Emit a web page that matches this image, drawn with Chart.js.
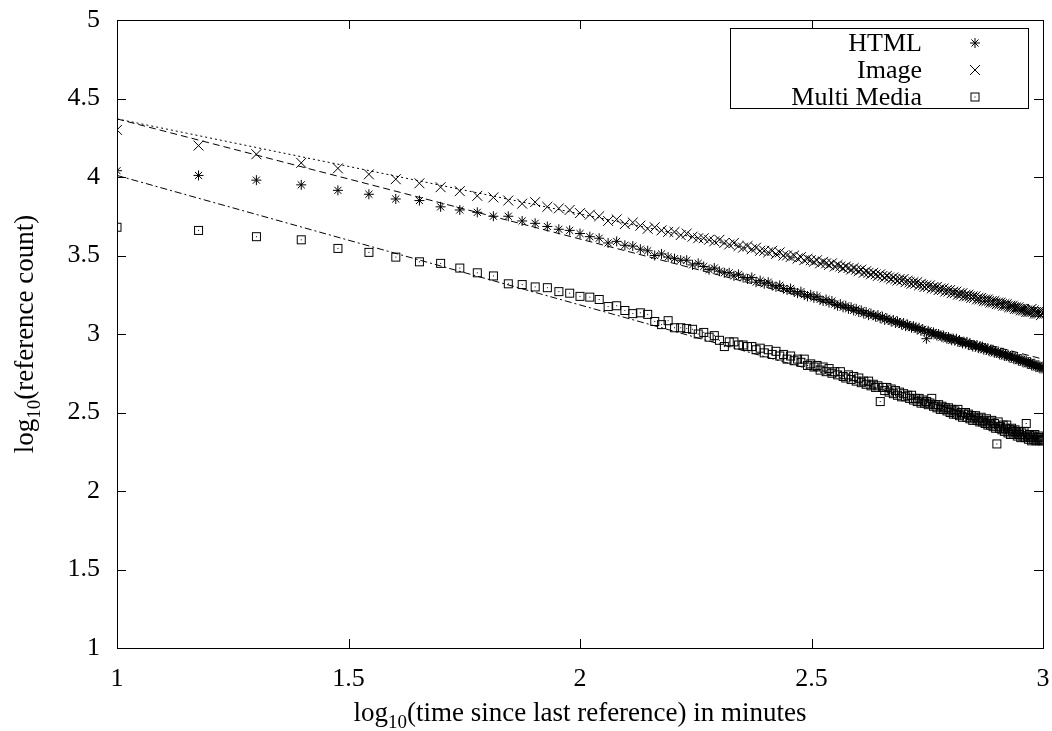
<!DOCTYPE html>
<html>
<head>
<meta charset="utf-8">
<script src="https://cdn.jsdelivr.net/npm/chart.js@4"></script>
<style>
  body { margin: 0; background: #fff; }
  #wrap { width: 1052px; height: 731px; }
</style>
</head>
<body>
<div id="wrap"><canvas id="refChart" width="1052" height="731"></canvas></div>
<script>
// time since last reference, minutes (x axis shows log10 of this)
var minutes = [10,15,20,25,30,35,40,45,50,55,60,65,70,75,80,85,90,95,100,
  105,110,115,120,125,130,135,140,145,150,155,160,165,170,175,180,185,190,195,200,
  205,210,215,220,225,230,235,240,245,250,255,260,265,270,275,280,285,290,295,300,
  305,310,315,320,325,330,335,340,345,350,355,360,365,370,375,380,385,390,395,400,
  405,410,415,420,425,430,435,440,445,450,455,460,465,470,475,480,485,490,495,500,
  505,510,515,520,525,530,535,540,545,550,555,560,565,570,575,580,585,590,595,600,
  605,610,615,620,625,630,635,640,645,650,655,660,665,670,675,680,685,690,695,700,
  705,710,715,720,725,730,735,740,745,750,755,760,765,770,775,780,785,790,795,800,
  805,810,815,820,825,830,835,840,845,850,855,860,865,870,875,880,885,890,895,900,
  905,910,915,920,925,930,935,940,945,950,955,960,965,970,975,980,985,990,995,1000];

// log10(reference count) per series
var htmlCounts = [4.04,4.01,3.98,3.95,3.915,3.89,3.86,3.85,3.81,3.79,3.775,3.75,3.75,3.72,3.705,3.685,3.667,3.66,3.64,
  3.62,3.61,3.58,3.59,3.565,3.56,3.54,3.53,3.50,3.51,3.49,3.48,3.47,3.47,
  3.44,3.45,3.43,3.41,3.42,3.40,3.39,3.39,3.37,3.38,3.36,3.35,3.36,3.33,3.34,3.32,3.33,3.31,
  3.30,3.31,3.29,3.28,3.29,3.27,3.26,3.27,3.25,3.24,3.25,3.23,3.24,3.22,3.21,3.22,3.20,3.21,3.19,3.18,3.19,3.17,3.18,3.16,3.17,3.15,3.16,3.14,
  3.15,3.13,3.14,3.12,3.13,3.12,3.11,3.12,3.10,3.11,3.09,3.10,3.09,3.08,3.09,3.07,3.08,3.07,3.06,3.07,
  3.05,3.06,3.05,3.04,3.05,3.04,3.03,3.04,3.02,3.03,3.02,2.97,3.02,3.01,3.00,3.01,3.00,2.99,3.00,2.99,
  2.98,2.99,2.98,2.97,2.98,2.97,2.96,2.97,2.96,2.97,2.95,2.96,2.95,2.94,2.95,2.94,2.95,2.93,2.94,2.93,
  2.92,2.93,2.92,2.93,2.91,2.92,2.91,2.92,2.90,2.91,2.90,2.91,2.89,2.90,2.89,2.90,2.88,2.89,2.88,2.89,
  2.87,2.88,2.87,2.88,2.86,2.87,2.86,2.87,2.85,2.86,2.85,2.86,2.84,2.85,2.84,2.85,2.83,2.84,2.83,2.84,
  2.82,2.83,2.82,2.83,2.81,2.82,2.81,2.82,2.80,2.81,2.80,2.81,2.79,2.80,2.79,2.80,2.78,2.79,2.78,2.79];

var imageCounts = [4.30,4.20,4.145,4.09,4.055,4.017,3.986,3.96,3.935,3.91,3.88,3.87,3.85,3.83,3.84,3.81,3.80,3.79,3.77,
  3.76,3.75,3.72,3.73,3.70,3.71,3.69,3.67,3.68,3.66,3.65,3.65,3.63,3.64,
  3.62,3.61,3.61,3.60,3.59,3.60,3.58,3.57,3.58,3.56,3.55,3.56,3.54,3.55,3.53,3.53,3.52,3.53,
  3.51,3.52,3.50,3.50,3.49,3.50,3.48,3.49,3.47,3.48,3.47,3.46,3.47,3.45,3.46,3.45,3.44,3.45,3.43,3.44,3.43,3.42,3.43,3.42,3.41,3.42,3.41,3.40,
  3.41,3.39,3.40,3.39,3.38,3.39,3.38,3.37,3.38,3.37,3.36,3.37,3.36,3.35,3.36,3.35,3.34,3.35,3.34,3.35,
  3.33,3.34,3.33,3.32,3.33,3.32,3.33,3.31,3.32,3.31,3.30,3.31,3.30,3.31,3.29,3.30,3.29,3.30,3.28,3.29,
  3.28,3.29,3.27,3.28,3.27,3.28,3.26,3.27,3.26,3.27,3.25,3.26,3.25,3.26,3.24,3.25,3.24,3.25,3.24,3.23,
  3.24,3.23,3.24,3.22,3.23,3.22,3.23,3.22,3.21,3.22,3.21,3.22,3.21,3.20,3.21,3.20,3.21,3.20,3.19,3.20,
  3.19,3.20,3.19,3.18,3.19,3.18,3.19,3.18,3.17,3.18,3.17,3.18,3.17,3.16,3.17,3.16,3.17,3.16,3.15,3.16,
  3.15,3.16,3.15,3.14,3.15,3.14,3.15,3.14,3.16,3.14,3.15,3.13,3.14,3.13,3.14,3.13,3.14,3.12,3.13,3.14];

var mediaCounts = [3.68,3.66,3.62,3.60,3.545,3.52,3.49,3.46,3.45,3.42,3.39,3.37,3.32,3.315,3.30,3.295,3.27,3.26,3.24,
  3.235,3.22,3.175,3.18,3.15,3.13,3.135,3.125,3.08,3.06,3.085,3.04,3.04,3.035,
  3.03,3.00,3.01,2.98,2.99,2.96,2.92,2.95,2.95,2.93,2.93,2.92,2.92,2.90,2.91,2.88,2.90,2.87,
  2.89,2.86,2.87,2.84,2.86,2.83,2.84,2.82,2.84,2.80,2.81,2.79,2.80,2.77,2.79,2.76,2.78,2.75,2.76,2.74,2.76,2.73,2.72,2.74,2.71,2.73,2.70,2.72,
  2.69,2.70,2.68,2.70,2.67,2.68,2.66,2.67,2.57,2.66,2.64,2.66,2.63,2.65,2.62,2.64,2.61,2.63,2.60,2.62,
  2.60,2.61,2.59,2.61,2.58,2.59,2.57,2.59,2.56,2.58,2.56,2.57,2.55,2.56,2.59,2.54,2.55,2.53,2.55,2.52,
  2.54,2.52,2.53,2.51,2.53,2.50,2.52,2.49,2.51,2.49,2.52,2.48,2.50,2.47,2.49,2.50,2.47,2.49,2.46,2.48,
  2.45,2.47,2.48,2.45,2.46,2.44,2.47,2.44,2.45,2.43,2.46,2.42,2.44,2.42,2.45,2.41,2.43,2.40,2.30,2.44,
  2.40,2.41,2.39,2.42,2.38,2.40,2.42,2.37,2.39,2.36,2.40,2.38,2.36,2.39,2.37,2.35,2.38,2.36,2.34,2.37,
  2.35,2.38,2.34,2.43,2.35,2.33,2.36,2.34,2.32,2.35,2.33,2.36,2.32,2.34,2.33,2.35,2.32,2.34,2.32,2.33];

// straight-line fits, value at log10(t) = 1 and 3
var fitEnds = [1, 3];
var htmlFit = [4.37, 2.84];
var imageFit = [4.37, 3.16];
var mediaFit = [4.01, 2.36];

var seriesLabels = ['HTML', 'Image', 'Multi Media'];
var serif = "'Liberation Serif', 'Times New Roman', serif";

function points(vals) {
  return vals.map(function (v, i) { return { x: Math.log10(minutes[i]), y: v }; });
}
function fitLine(ends) {
  return ends.map(function (v, i) { return { x: fitEnds[i], y: v }; });
}

// open square with a dot in the middle
function boxMarker() {
  var c = document.createElement('canvas');
  c.width = 11; c.height = 11;
  var g = c.getContext('2d');
  g.strokeStyle = '#000';
  g.lineWidth = 1;
  g.strokeRect(1.5, 1.5, 8, 8);
  g.fillStyle = '#000';
  g.fillRect(5, 5, 1, 1);
  return c;
}
var boxImg = boxMarker();

var gnuplotFrame = {
  id: 'gnuplotFrame',
  beforeDraw: function (chart) {
    var ctx = chart.ctx;
    ctx.save();
    ctx.fillStyle = '#fff';
    ctx.fillRect(0, 0, chart.width, chart.height);
    ctx.restore();
  },
  afterDraw: function (chart) {
    var ctx = chart.ctx, a = chart.chartArea;
    var xs = chart.scales.x, ys = chart.scales.y;
    ctx.save();
    ctx.strokeStyle = '#000';
    ctx.lineWidth = 1;
    ctx.strokeRect(a.left + 0.5, a.top + 0.5, a.right - a.left, a.bottom - a.top);
    ctx.beginPath();
    xs.ticks.forEach(function (t) {
      var px = Math.round(xs.getPixelForValue(t.value)) + 0.5;
      ctx.moveTo(px, a.bottom); ctx.lineTo(px, a.bottom - 9);
      ctx.moveTo(px, a.top); ctx.lineTo(px, a.top + 9);
    });
    ys.ticks.forEach(function (t) {
      var py = Math.round(ys.getPixelForValue(t.value)) + 0.5;
      ctx.moveTo(a.left, py); ctx.lineTo(a.left + 9, py);
      ctx.moveTo(a.right, py); ctx.lineTo(a.right - 9, py);
    });
    ctx.stroke();

    // axis titles with subscript 10
    function subTitle(before, after, cx, base) {
      ctx.font = '27px ' + serif;
      var w1 = ctx.measureText(before).width, w3 = ctx.measureText(after).width;
      ctx.font = '19px ' + serif;
      var w2 = ctx.measureText('10').width;
      var x0 = cx - (w1 + w2 + w3) / 2;
      ctx.fillStyle = '#000';
      ctx.textBaseline = 'alphabetic';
      ctx.textAlign = 'left';
      ctx.font = '27px ' + serif;
      ctx.fillText(before, x0, base);
      ctx.font = '19px ' + serif;
      ctx.fillText('10', x0 + w1, base + 7);
      ctx.font = '27px ' + serif;
      ctx.fillText(after, x0 + w1 + w2, base);
    }
    subTitle('log', '(time since last reference) in minutes', (a.left + a.right) / 2, 721);
    ctx.save();
    ctx.translate(33, (a.top + a.bottom) / 2);
    ctx.rotate(-Math.PI / 2);
    subTitle('log', '(reference count)', 0, 0);
    ctx.restore();

    // legend box: text right aligned, marker on the right
    var lx = 730, ly = 28, lw = 298, lh = 80;
    ctx.strokeRect(lx + 0.5, ly + 0.5, lw, lh);
    ctx.font = '26px ' + serif;
    ctx.textAlign = 'right';
    ctx.textBaseline = 'middle';
    ctx.fillStyle = '#000';
    for (var i = 0; i < 3; i++) {
      var ds = chart.data.datasets[i];
      var rowY = 43 + i * 27;
      ctx.fillText(ds.label, 922, rowY + 1);
      Chart.helpers.drawPoint(ctx, {
        pointStyle: ds.pointStyle, radius: ds.pointRadius, borderWidth: 1, rotation: 0
      }, 975, rowY);
    }
    ctx.restore();
  }
};

var plainTick = function (v) { return String(v); };

var config = {
  type: 'scatter',
  data: {
    datasets: [
      { label: seriesLabels[0], data: points(htmlCounts), pointStyle: 'star', pointRadius: 5,
        borderColor: '#000', backgroundColor: '#000', pointBorderWidth: 1 },
      { label: seriesLabels[1], data: points(imageCounts), pointStyle: 'crossRot', pointRadius: 7,
        borderColor: '#000', backgroundColor: '#000', pointBorderWidth: 1 },
      { label: seriesLabels[2], data: points(mediaCounts), pointStyle: boxImg, pointRadius: 5,
        borderColor: '#000', backgroundColor: '#000', pointBorderWidth: 1 },
      { label: 'HTML fit', data: fitLine(htmlFit), showLine: true, pointRadius: 0,
        borderColor: '#000', borderWidth: 1, borderDash: [7, 4] },
      { label: 'Image fit', data: fitLine(imageFit), showLine: true, pointRadius: 0,
        borderColor: '#000', borderWidth: 1, borderDash: [2, 3] },
      { label: 'Multi Media fit', data: fitLine(mediaFit), showLine: true, pointRadius: 0,
        borderColor: '#000', borderWidth: 1, borderDash: [7, 3, 2, 3] }
    ]
  },
  options: {
    responsive: false,
    animation: false,
    layout: { padding: { left: 0, right: 9, top: 20, bottom: 0 } },
    plugins: { legend: { display: false }, tooltip: { enabled: false } },
    scales: {
      x: {
        type: 'linear', min: 1, max: 3,
        grid: { display: false, drawTicks: false },
        border: { display: false },
        ticks: { stepSize: 0.5, padding: 16, color: '#000', maxRotation: 0,
                 font: { family: serif, size: 26 }, callback: plainTick },
        afterFit: function (s) { s.height = 83; s.paddingLeft = 0; s.paddingRight = 0; }
      },
      y: {
        type: 'linear', min: 1, max: 5,
        grid: { display: false, drawTicks: false },
        border: { display: false },
        ticks: { stepSize: 0.5, padding: 17, color: '#000',
                 font: { family: serif, size: 26 }, callback: plainTick },
        afterFit: function (s) { s.width = 117; s.paddingTop = 0; s.paddingBottom = 0; }
      }
    }
  },
  plugins: [gnuplotFrame]
};

var refChart = new Chart(document.getElementById('refChart'), config);
</script>
</body>
</html>
